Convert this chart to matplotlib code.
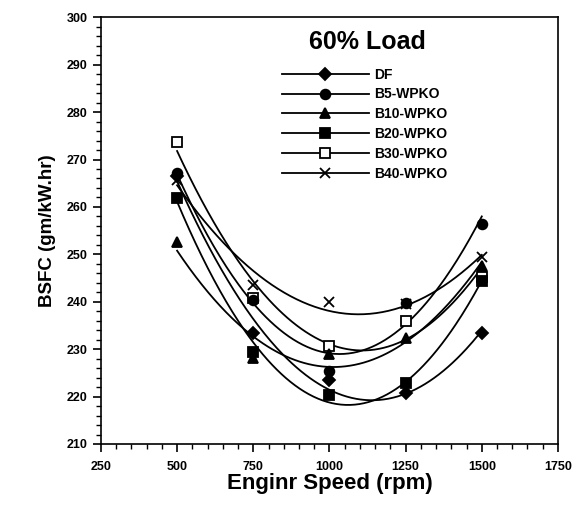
import numpy as np
import matplotlib
matplotlib.use("Agg")
import matplotlib.pyplot as plt
from matplotlib.ticker import MultipleLocator

plt.rcParams['font.family'] = ['Liberation Sans', 'DejaVu Sans']
plt.rcParams['font.weight'] = 'bold'

# Engine speed (rpm)
speed = [500, 750, 1000, 1250, 1500]

# BSFC values (gm/kW.hr)
df = [266.5, 233.5, 223.5, 220.7, 233.5]
b5 = [267.2, 240.3, 225.3, 239.7, 256.4]
b10 = [252.6, 228.1, 229.0, 232.4, 247.5]
b20 = [261.8, 229.5, 220.4, 222.8, 244.3]
b30 = [273.6, 240.8, 230.7, 236.0, 245.3]
b40 = [265.7, 243.6, 240.0, 239.5, 249.4]

labels = ["DF", "B5-WPKO", "B10-WPKO", "B20-WPKO", "B30-WPKO", "B40-WPKO"]
series = [df, b5, b10, b20, b30, b40]
markers = ["D", "o", "^", "s", "s", "x"]
fills = ["black", "black", "black", "black", "white", "black"]
zorders = [4, 5, 4, 4, 3, 4]

fig = plt.figure(figsize=(5.8, 5.08), dpi=100)
ax = fig.add_axes([0.174, 0.126, 0.788, 0.84])

# second order fit through each series, drawn with the marker at each point
xs = np.linspace(500, 1500, 200)
for lab, y, m, fc, z in zip(labels, series, markers, fills, zorders):
    ms = 7 if m != "D" else 6
    coef = np.polyfit(speed, y, 2)
    ax.plot(xs, np.polyval(coef, xs), color="black", lw=1.3, zorder=2)
    ax.plot(speed, y, linestyle="none", marker=m, color="black",
            markerfacecolor=fc, markersize=ms, mew=1.3, zorder=z)
    # legend proxy
    ax.plot([], [], color="black", lw=1.3, marker=m, markerfacecolor=fc,
            markersize=ms, mew=1.3, label=lab)

ax.set_xlim(250, 1750)
ax.set_ylim(210, 300)
ax.xaxis.set_major_locator(MultipleLocator(250))
ax.xaxis.set_minor_locator(MultipleLocator(50))
ax.yaxis.set_major_locator(MultipleLocator(10))
ax.yaxis.set_minor_locator(MultipleLocator(2))
ax.tick_params(which="major", direction="out", length=6, width=1.2, labelsize=9)
ax.tick_params(which="minor", direction="out", length=3.5, width=1)
ax.tick_params(axis="x", pad=6)
for s in ax.spines.values():
    s.set_linewidth(1.2)

ax.set_xlabel("Enginr Speed (rpm)", fontsize=16, fontweight="bold", labelpad=0)
ax.set_ylabel("BSFC (gm/kW.hr)", fontsize=13.5, fontweight="bold", labelpad=8)

ax.text(0.455, 0.97, "60% Load", transform=ax.transAxes, fontsize=18,
        fontweight="bold", va="top")
ax.legend(loc="upper left", bbox_to_anchor=(0.385, 0.895), frameon=False,
          handlelength=6.2, fontsize=10, labelspacing=0.42, handletextpad=0.4,
          borderaxespad=0)

fig.savefig("out.png", dpi=100)
